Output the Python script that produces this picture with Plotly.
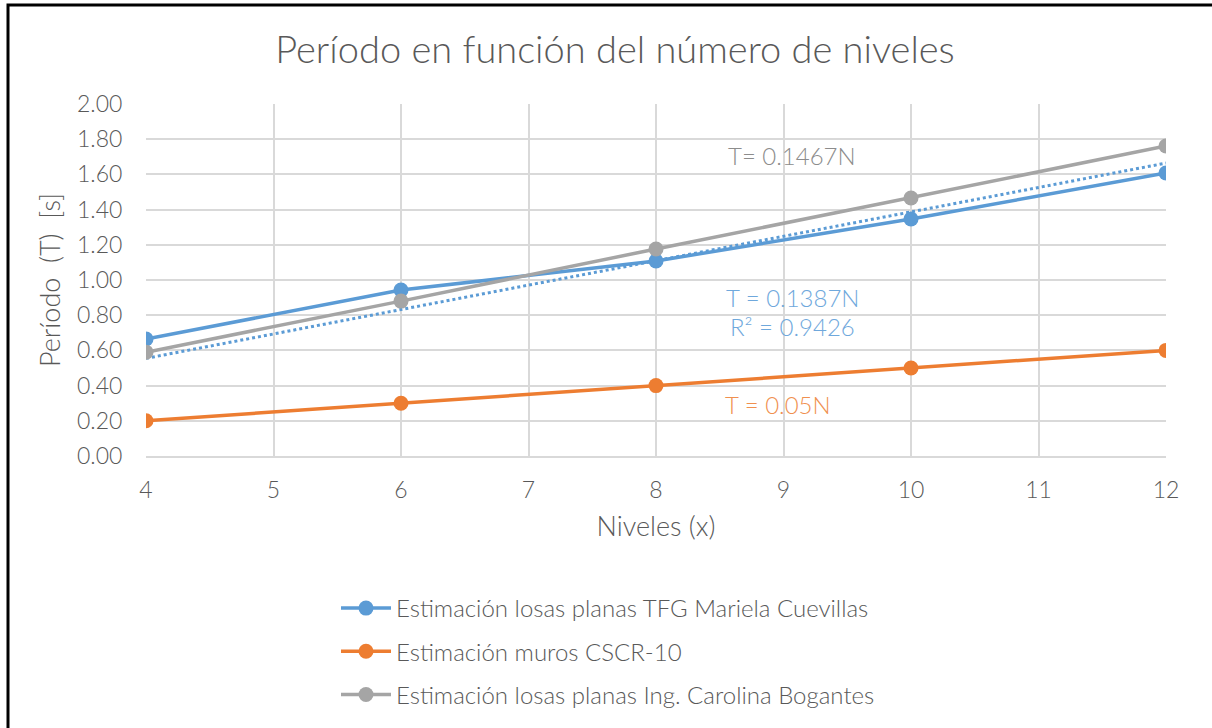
import plotly.graph_objects as go

# Number of levels
niveles = [4, 6, 8, 10, 12]

# Period estimates [s]
t_mariela = [0.665, 0.943, 1.108, 1.347, 1.608]
t_cscr = [0.20, 0.30, 0.40, 0.50, 0.60]
t_carolina = [0.59, 0.88, 1.176, 1.466, 1.761]

# Linear trend (through origin) for the TFG series
trend_slope = 0.1387
trend_x = [4, 12]

names = [
    "Estimación losas planas TFG Mariela Cuevillas",
    "Estimación muros CSCR-10",
    "Estimación losas planas Ing. Carolina Bogantes",
]

BLUE = "#5B9BD5"
ORANGE = "#ED7D31"
GRAY = "#A5A5A5"
TEXT = "#595959"
FONT = "Lato"

fig = go.Figure()

fig.add_trace(go.Scatter(
    x=trend_x, y=[trend_slope * v for v in trend_x], mode="lines",
    line=dict(color=BLUE, width=3, dash="dot"),
    showlegend=False, hoverinfo="skip",
))

series = [(t_mariela, BLUE), (t_cscr, ORANGE), (t_carolina, GRAY)]
for i, ((vals, col), name) in enumerate(zip(series, names)):
    fig.add_trace(go.Scatter(
        x=niveles, y=vals, name=name, mode="lines+markers",
        line=dict(color=col, width=3.5),
        marker=dict(color=col, size=15),
        legendgroup=f"g{i}",
    ))

W, H = 1212, 728
L, R, T, B = 146, 46, 104, 272
pw, ph = W - L - R, H - T - B

def px(x):
    return (x - L) / pw

def py(y):
    return (T + ph - y) / ph

# outer chart border
fig.add_shape(type="rect", xref="paper", yref="paper",
              x0=px(8), x1=px(1220), y0=py(740), y1=py(5),
              line=dict(color="black", width=3), layer="above")

ann_font = dict(family=FONT, size=24, weight=300)
fig.add_annotation(x=9.07, y=1.71, text="T= 0.1467N", showarrow=False,
                   font=dict(**ann_font, color="#8c8c8c"))
fig.add_annotation(x=9.07, y=0.898, text="T = 0.1387N", showarrow=False,
                   font=dict(**ann_font, color="#6fa8dc"))
fig.add_annotation(x=9.07, y=0.733, text="R² = 0.9426", showarrow=False,
                   font=dict(**ann_font, color="#6fa8dc"))
fig.add_annotation(x=8.96, y=0.29, text="T = 0.05N", showarrow=False,
                   font=dict(**ann_font, color="#f0904f"))

fig.update_layout(
    width=W, height=H,
    margin=dict(l=L, r=R, t=T, b=B, autoexpand=False),
    paper_bgcolor="white", plot_bgcolor="white",
    font=dict(family=FONT, color=TEXT, weight=300),
    title=dict(text="Período en función del número de niveles",
               x=615 / W, xanchor="center", y=1 - 50 / H, yanchor="middle",
               font=dict(family=FONT, size=38, color=TEXT, weight=300)),
    xaxis=dict(range=[4, 12], dtick=1, tick0=4,
               showgrid=True, gridcolor="#d9d9d9", gridwidth=1.5,
               zeroline=False, showline=True, linecolor="#d9d9d9", linewidth=1.5,
               ticks="outside", ticklen=13, tickcolor="rgba(0,0,0,0)",
               tickfont=dict(family=FONT, size=23, color=TEXT, weight=300),
               title=dict(text="Niveles (x)", standoff=15,
                          font=dict(family=FONT, size=27, color=TEXT, weight=300))),
    yaxis=dict(range=[0, 2], dtick=0.2, tickformat=".2f",
               showgrid=True, gridcolor="#d9d9d9", gridwidth=1.5,
               zeroline=False, showline=False,
               ticks="outside", ticklen=18, tickcolor="rgba(0,0,0,0)",
               tickfont=dict(family=FONT, size=23, color=TEXT, weight=300),
               title=dict(text="Período  (T)  [s]", standoff=8,
                          font=dict(family=FONT, size=27, color=TEXT, weight=300))),
    legend=dict(x=px(336), y=py(586), xanchor="left", yanchor="top",
                orientation="v", tracegroupgap=9,
                font=dict(family=FONT, size=24, color=TEXT, weight=300),
                itemwidth=50, bgcolor="rgba(0,0,0,0)"),
    showlegend=True,
)

fig.write_html("out.html")
